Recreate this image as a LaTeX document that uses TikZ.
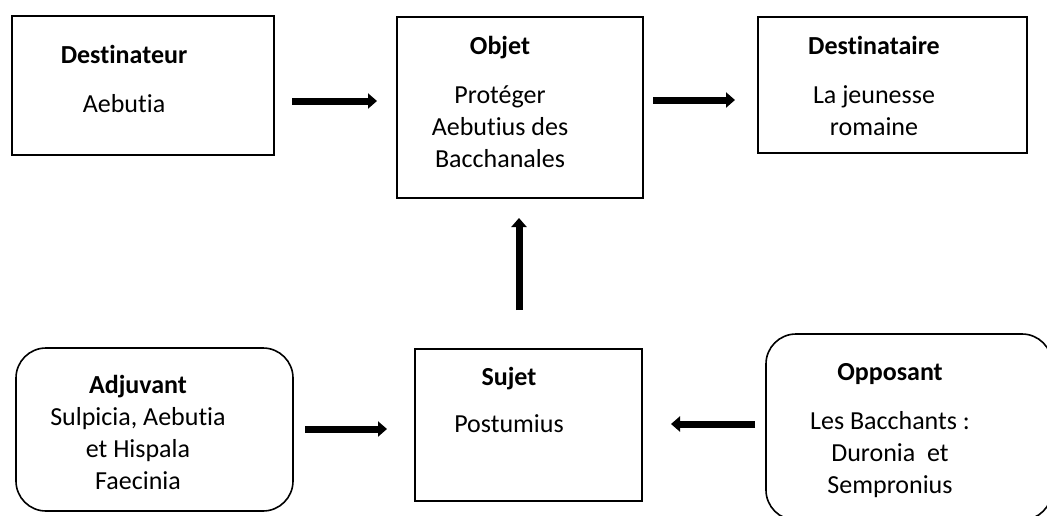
\documentclass[tikz,border=0pt]{standalone}
\usepackage{fontspec}
\setmainfont{Carlito}[Ligatures=NoCommon]
\usetikzlibrary{arrows.meta}
\tikzset{
  box/.style={draw=black, line width=1.6pt, inner sep=0pt},
  rbox/.style={box, rounded corners=30pt},
  lbl/.style={anchor=base, inner sep=0pt, font=\fontsize{26}{32}\selectfont},
  hd/.style={lbl, font=\fontsize{26}{32}\selectfont\bfseries},
  bigarrow/.style={line width=7pt, -{Triangle[width=15pt,length=9pt]}}
}
\begin{document}
\begin{tikzpicture}[x=1pt,y=-1pt]
\useasboundingbox (0,0) rectangle (1047,515);
\clip (0,0) rectangle (1047,515);
% boxes
\node[box, minimum width=262pt, minimum height=139pt] (dest) at (143,85.5) {};
\node[box, minimum width=246pt, minimum height=181pt] (obj) at (520,107.5) {};
\node[box, minimum width=269pt, minimum height=136pt] (desta) at (892.5,85) {};
\node[rbox, minimum width=277pt, minimum height=163pt] (adj) at (154.5,429.5) {};
\node[box, minimum width=227pt, minimum height=152pt] (suj) at (528.5,425) {};
\node[rbox, minimum width=286pt, minimum height=186pt] (opp) at (909,427) {};
% texts
\node[hd] (t1) at (124,63) {Destinateur};
\node[lbl] (t2) at (124,112) {Aebutia};
\node[hd] (t3) at (500,54) {Objet};
\node[lbl] (t4) at (500,103) {Protéger};
\node[lbl] (t5) at (500,135) {Aebutius des};
\node[lbl] (t6) at (500,167) {Bacchanales};
\node[hd] (t7) at (874,54) {Destinataire};
\node[lbl] (t8) at (874,103) {La jeunesse};
\node[lbl] (t9) at (874,135) {romaine};
\node[hd] (t10) at (509,385) {Sujet};
\node[lbl] (t11) at (509,432) {Postumius};
\node[hd] (t12) at (138,393) {Adjuvant};
\node[lbl] (t13) at (138,425) {Sulpicia, Aebutia};
\node[lbl] (t14) at (138,457) {et Hispala};
\node[lbl] (t15) at (138,489) {Faecinia};
\node[hd] (t16) at (890,380) {Opposant};
\node[lbl] (t17) at (890,429) {Les Bacchants :};
\node[lbl] (t18) at (890,461) {Duronia\ \ et};
\node[lbl] (t19) at (890,493) {Sempronius};
% arrow ends
\coordinate (a1s) at (292,101); \coordinate (a1e) at (377,101);
\coordinate (a2s) at (653,100); \coordinate (a2e) at (735,100);
\coordinate (a3s) at (519,310); \coordinate (a3e) at (519,218);
\coordinate (a4s) at (305,429); \coordinate (a4e) at (387,429);
\coordinate (a5s) at (755,424); \coordinate (a5e) at (671,424);
\draw[bigarrow] (a1s) -- (a1e);
\draw[bigarrow] (a2s) -- (a2e);
\draw[bigarrow] (a3s) -- (a3e);
\draw[bigarrow] (a4s) -- (a4e);
\draw[bigarrow] (a5s) -- (a5e);
\end{tikzpicture}
\end{document}
